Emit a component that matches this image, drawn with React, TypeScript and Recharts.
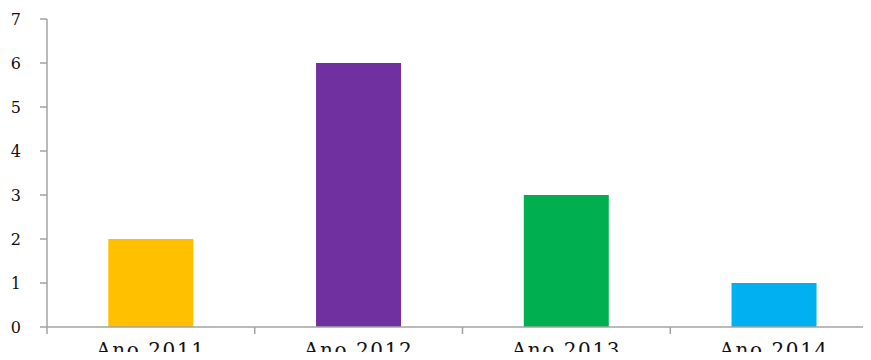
import { BarChart, Bar, XAxis, YAxis, Cell } from "recharts";

const categories = ["Ano 2011", "Ano 2012", "Ano 2013", "Ano 2014"];
const values = [2, 6, 3, 1];
const barColors = ["#FFC000", "#7030A0", "#00B050", "#00B0F0"];
const yTicks = [0, 1, 2, 3, 4, 5, 6, 7];

const data = categories.map((name, i) => ({ name, value: values[i] }));

const axisColor = "#A3A3A3";
const font = "'DejaVu Serif', serif";
const labelGap = 16;

// category label with tick marks on the band edges instead of the center
function CategoryTick(props: any) {
  const { x, y, payload, index } = props;
  const half = payload.offset ?? 0;
  const top = y - labelGap;
  return (
    <g>
      {index === 0 && (
        <line x1={x - half} x2={x - half} y1={top} y2={top + 7} stroke={axisColor} strokeWidth={1.5} />
      )}
      <line x1={x + half} x2={x + half} y1={top} y2={top + 7} stroke={axisColor} strokeWidth={1.5} />
      <text
        x={x}
        y={y}
        dy="0.71em"
        textAnchor="middle"
        fill="#111"
        fontSize={20}
        fontFamily={font}
        letterSpacing={1.6}
      >
        {payload.value}
      </text>
    </g>
  );
}

export default function App() {
  return (
    <div style={{ margin: -8, width: 871, height: 360, overflow: "hidden" }}>
      <BarChart
        width={878}
        height={360}
        data={data}
        margin={{ top: 19, right: 0, bottom: 0, left: 0 }}
        barCategoryGap="29.5%"
      >
        <XAxis
          dataKey="name"
          height={33}
          stroke={axisColor}
          strokeWidth={1.5}
          tickLine={false}
          tickSize={0}
          tickMargin={labelGap}
          interval={0}
          tick={<CategoryTick />}
        />
        <YAxis
          width={47}
          domain={[0, 7]}
          ticks={yTicks}
          stroke={axisColor}
          strokeWidth={1.5}
          tickSize={7}
          tickMargin={19}
          tick={{ fill: "#111", fontSize: 16, fontFamily: font }}
          tickLine={{ stroke: axisColor }}
        />
        <Bar dataKey="value" isAnimationActive={false}>
          {data.map((d, i) => (
            <Cell key={d.name} fill={barColors[i]} />
          ))}
        </Bar>
      </BarChart>
    </div>
  );
}
